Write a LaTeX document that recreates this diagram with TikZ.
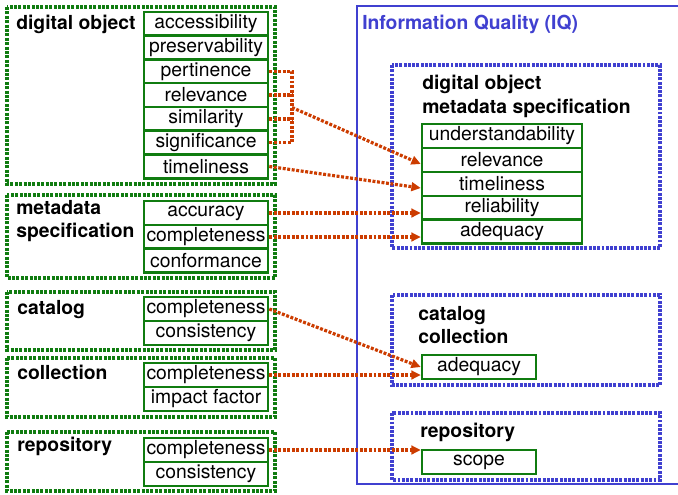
\documentclass[tikz,border=0pt]{standalone}
\usepackage{fontspec}
\setmainfont{TeX Gyre Heros}
\usetikzlibrary{arrows.meta}

\definecolor{dogreen}{RGB}{16,124,16}
\definecolor{iqblue}{RGB}{64,64,208}
\definecolor{linkred}{RGB}{204,60,0}
\newcommand{\dofont}{\fontsize{14.5}{17.5}\selectfont}

\tikzset{
  group/.style={draw=dogreen, line width=2.6pt, dash pattern=on 2.3pt off 1pt},
  iqgroup/.style={draw=iqblue, line width=2.4pt, dash pattern=on 2.2pt off 1pt},
  cell/.style={draw=dogreen, line width=1.9pt, fill=white, inner sep=0pt,
    minimum width=93pt, minimum height=17.8pt},
  iqcell/.style={cell, minimum width=120pt},
  title/.style={anchor=north west, inner sep=0pt, align=left, font=\dofont\bfseries},
  link/.style={draw=linkred, line width=2.4pt, dash pattern=on 2.2pt off 1.2pt},
  linkarrow/.style={link, -{Triangle[length=7pt,width=6.5pt]}},
}

\begin{document}
\begin{tikzpicture}[x=0.75pt, y=-0.75pt, font=\dofont]
    \useasboundingbox (0,0) rectangle (678,494);

    % left side: groups of quality criteria
    \draw[group] (7,7) rectangle (275,184);
    \draw[group] (7,195) rectangle (275,278);
    \draw[group] (7,292) rectangle (275,350);
    \draw[group] (7,358) rectangle (275,417);
    \draw[group] (7,432) rectangle (275,491);

    \node[title] (tdo) at (16,15) {digital object};
    \node[title] (tms) at (16,200) {metadata\\specification};
    \node[title] (tcat) at (17,300) {catalog};
    \node[title] (tcol) at (17,365) {collection};
    \node[title] (trep) at (17,437) {repository};

    \node[cell] (acc) at (206,24) {accessibility};
    \node[cell] (pres) at (206,47.5) {preservability};
    \node[cell] (pert) at (206,71.5) {pertinence};
    \node[cell] (rel) at (206,95) {relevance};
    \node[cell] (sim) at (206,119) {similarity};
    \node[cell] (sig) at (206,142.5) {significance};
    \node[cell] (time) at (206,166.5) {timeliness};

    \node[cell] (accu) at (206,213) {accuracy};
    \node[cell] (mcomp) at (206,237) {completeness};
    \node[cell] (conf) at (206,260.5) {conformance};

    \node[cell] (catcomp) at (206,309) {completeness};
    \node[cell] (catcons) at (206,333) {consistency};

    \node[cell] (colcomp) at (206,375) {completeness};
    \node[cell] (impact) at (206,399) {impact factor};

    \node[cell] (repcomp) at (206,450) {completeness};
    \node[cell] (repcons) at (206,474) {consistency};

    % right side: information quality
    \draw[iqblue, line width=1.2pt] (682,6) -- (357,6) -- (357,484) -- (682,484);
    \node[title, text=iqblue] (tiq) at (362,15) {Information Quality (IQ)};

    \draw[iqgroup] (392,65) rectangle (660,248);
    \draw[iqgroup] (392,295) rectangle (660,385);
    \draw[iqgroup] (392,413) rectangle (660,480);

    \node[title] (tdoms) at (422,75) {digital object\\metadata specification};
    \node[title] (tcc) at (418,306) {catalog\\collection};
    \node[title] (tr) at (420,423) {repository};

    \node[iqcell] (under) at (502,136) {understandability};
    \node[iqcell] (rrel) at (502,160) {relevance};
    \node[iqcell] (rtime) at (502,184) {timeliness};
    \node[iqcell] (relia) at (502,208) {reliability};
    \node[iqcell] (radeq) at (502,231.5) {adequacy};

    \node[cell, minimum width=85.5pt] (cadeq) at (479,367) {adequacy};
    \node[cell, minimum width=85.5pt] (scope) at (479,462) {scope};

    % links
    \coordinate (brk) at (292,107.5);
    \draw[link] (pert.east) -- (pert.east -| brk) -- (sig.east -| brk) -- (sig.east);
    \draw[link] (rel.east) -- (rel.east -| brk);
    \draw[link] (sim.east) -- (sim.east -| brk);
    \draw[linkarrow] (brk) -- ([yshift=-3pt]rrel.west);
    \draw[linkarrow] (time.east) -- ([yshift=-3pt]rtime.west);
    \draw[linkarrow] (accu.east) -- (accu.east -| relia.west);
    \draw[linkarrow] (mcomp.east) -- (mcomp.east -| radeq.west);
    \draw[linkarrow] (catcomp.east) -- (cadeq.west);
    \draw[linkarrow] (colcomp.east) -- (colcomp.east -| cadeq.west);
    \draw[linkarrow] (repcomp.east) -- (repcomp.east -| scope.west);

\end{tikzpicture}
\end{document}
